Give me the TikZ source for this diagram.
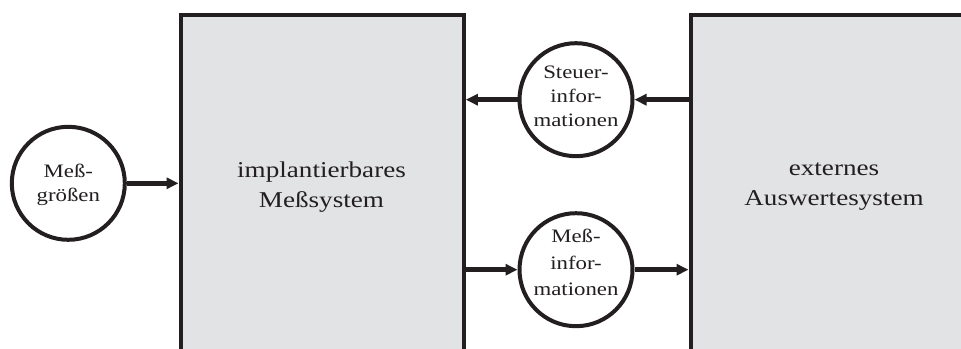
\documentclass[tikz,border=0pt]{standalone}
\usepackage{fontspec}
\setmainfont{Liberation Serif}[FakeStretch=1.2]
\usetikzlibrary{arrows.meta}
\definecolor{ink}{HTML}{231F20}
\definecolor{panel}{HTML}{E2E3E5}
\begin{document}
\begin{tikzpicture}[x=1pt,y=-1pt,
  panelbox/.style={draw=ink, fill=panel, line width=4pt, inner sep=0pt, anchor=north west},
  paneltext/.style={font=\fontsize{22.6}{30}\selectfont, align=center, text=ink},
  flowcircle/.style={circle, draw=ink, fill=white, line width=4pt, minimum size=113pt, inner sep=0pt},
  flowtext/.style={font=\fontsize{19}{24}\selectfont, align=center, text=ink, inner sep=0pt},
  flow/.style={draw=ink, line width=4.5pt, -{Triangle[length=12pt,width=11pt]}}]

\useasboundingbox (0,0) rectangle (961,348);

% the two system blocks (open towards the page edges)
\node[panelbox, minimum width=283.3pt, minimum height=420pt] (imp) at (178.5,12.7) {};
\node[panelbox, minimum width=300pt, minimum height=420pt] (ext) at (688.5,12.7) {};
\node[paneltext] (impl) at (321.5,187) {implantierbares\\Meßsystem};
\node[paneltext] (extl) at (834,187) {externes\\Auswertesystem};

% data circles
\node[flowcircle] (mg) at (68.3,183.3) {};
\node[flowcircle] (si) at (576,99.7) {};
\node[flowcircle] (mi) at (576,269.7) {};
\node[flowtext] (mgl) at (68.3,184.5) {Meß-\\größen};
\node[flowtext, font=\fontsize{19}{24}\selectfont] (sil) at (576,96.5) {Steuer-\\infor-\\mationen};
\node[flowtext, font=\fontsize{19}{26.5}\selectfont] (mil) at (576,262.5) {Meß-\\infor-\\mationen};

% flows
\draw[flow] (mg.east) -- (mg.east -| imp.west);
\draw[flow] (si.west) -- (si.west -| imp.east);
\draw[flow] (si.east -| ext.west) -- (si.east);
\draw[flow] (mi.west -| imp.east) -- (mi.west);
\draw[flow] (mi.east) -- (mi.east -| ext.west);
\end{tikzpicture}
\end{document}
